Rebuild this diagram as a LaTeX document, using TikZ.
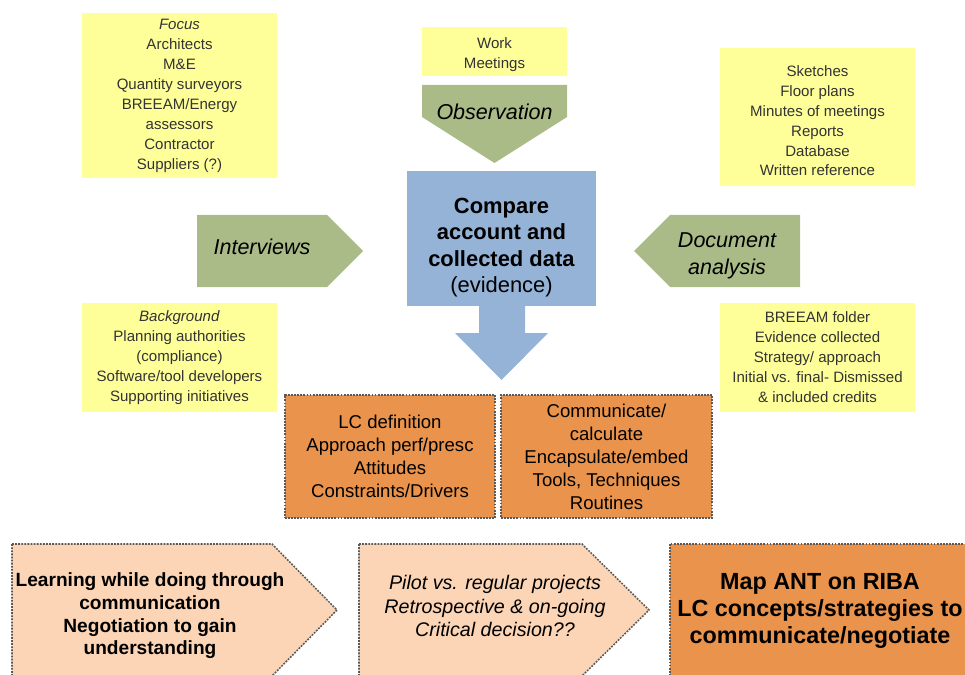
\documentclass[tikz,border=0pt]{standalone}
\usepackage{fontspec}
\setmainfont{Liberation Sans}
\usetikzlibrary{positioning}

\definecolor{notefill}{HTML}{FFFF99}
\definecolor{methodgreen}{HTML}{AABB88}
\definecolor{compareblue}{HTML}{95B3D7}
\definecolor{themeorange}{HTML}{E9934C}
\definecolor{peach}{HTML}{FBD5B5}
\definecolor{dotgray}{HTML}{595959}

\tikzset{
  notebox/.style={fill=notefill,align=center,inner sep=0pt,text=black!80,
    font=\fontsize{10.7}{14.2}\selectfont},
  methodarrow/.style={fill=methodgreen},
  methodtext/.style={align=center,font=\fontsize{15.3}{19.2}\selectfont\itshape},
  dotborder/.style={draw=dotgray,line width=1.1pt,dash pattern=on 1.3pt off 0.9pt},
  themebox/.style={dotborder,fill=themeorange,align=center,inner sep=0pt,
    font=\fontsize{13.2}{16.4}\selectfont},
  chevron/.style={dotborder,fill=peach},
}

\begin{document}
\begin{tikzpicture}[x=0.025cm,y=-0.025cm]
\useasboundingbox (0,0) rectangle (965,675);
\clip (0,0) rectangle (965,675);

% sources of data
\node[notebox,minimum width=4.875cm,minimum height=4.125cm] (focus) at (179.5,95.5)
  {\textit{Focus}\\Architects\\M\&E\\Quantity surveyors\\BREEAM/Energy\\assessors\\Contractor\\Suppliers (?)};
\node[notebox,minimum width=3.625cm,minimum height=1.225cm] (work) at (494.5,51.5)
  {\rule{0pt}{12pt}Work\\Meetings};
\node[notebox,minimum width=4.875cm,minimum height=3.45cm] (docs) at (817.5,117)
  {\rule{0pt}{13pt}Sketches\\Floor plans\\Minutes of meetings\\Reports\\Database\\Written reference};
\node[notebox,minimum width=4.875cm,minimum height=2.725cm] (background) at (179.5,357.5)
  {\textit{Background}\\Planning authorities\\(compliance)\\Software/tool developers\\Supporting initiatives};
\node[notebox,minimum width=4.875cm,minimum height=2.725cm] (breeam) at (817.5,357.5)
  {BREEAM folder\\Evidence collected\\Strategy/ approach\\Initial vs. final- Dismissed\\\& included credits};

% methods
\fill[methodarrow] (422,85) -- (567,85) -- (567,117) -- (494.5,163) -- (422,117) -- cycle;
\node[methodtext] (obs) at (494.5,112) {Observation};
\fill[methodarrow] (197,215) -- (327,215) -- (363,251) -- (327,287) -- (197,287) -- cycle;
\node[methodtext] (interviews) at (262,247) {Interviews};
\fill[methodarrow] (800,215) -- (670,215) -- (634,251) -- (670,287) -- (800,287) -- cycle;
\node[methodtext,font=\fontsize{15.3}{19.6}\selectfont\itshape] (docanalysis) at (727,256) {Document\\analysis};

% comparison
\node[fill=compareblue,inner sep=0pt,minimum width=4.725cm,minimum height=3.375cm] (compare) at (501.5,238.5) {};
\node[align=center,font=\fontsize{15.6}{18.8}\selectfont] (comparetext) at (501.5,247.5)
  {\textbf{Compare}\\\textbf{account and}\\\textbf{collected data}\\(evidence)};
\fill[compareblue] (479,305) -- (525,305) -- (525,333) -- (548,333) -- (501.5,380)
  -- (455,333) -- (479,333) -- cycle;

% themes
\node[themebox,minimum width=5.25cm,minimum height=3.075cm] (lcdef) at (390,456.5)
  {LC definition\\Approach perf/presc\\Attitudes\\Constraints/Drivers};
\node[themebox,minimum width=5.275cm,minimum height=3.075cm] (tools) at (606.5,456.5)
  {Communicate/\\calculate\\Encapsulate/embed\\Tools, Techniques\\Routines};

% outcomes
\draw[chevron] (12,544) -- (272,544) -- (337,610) -- (272,676) -- (12,676) -- cycle;
\node[align=center,font=\fontsize{13.6}{16.1}\selectfont\bfseries] (learning) at (150,616)
  {Learning while doing through\\communication\\Negotiation to gain\\understanding};
\draw[chevron] (359,544) -- (582,544) -- (649,610) -- (582,676) -- (359,676) -- cycle;
\node[align=center,font=\fontsize{14}{16.7}\selectfont\itshape] (pilot) at (495,606)
  {Pilot vs. regular projects\\Retrospective \& on-going\\Critical decision??};
\draw[dotborder,fill=themeorange] (670,544) rectangle (980,690);
\node[align=center,font=\fontsize{16.6}{19.2}\selectfont\bfseries] (mapant) at (820,611)
  {Map ANT on RIBA\\LC concepts/strategies to\\communicate/negotiate};
\end{tikzpicture}
\end{document}
